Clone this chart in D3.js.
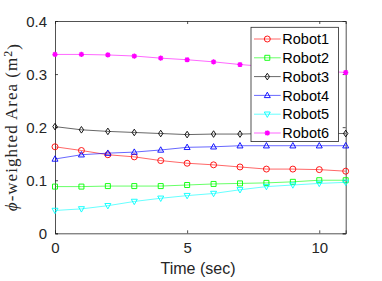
<!DOCTYPE html>
<html>
<head>
<meta charset="utf-8">
<script src="https://cdn.jsdelivr.net/npm/d3@7"></script>
<style>
  body { margin: 0; background: #fff; }
  svg { display: block; }
</style>
</head>
<body>
<div class="chart"></div>
<script>
const time = [0, 1, 2, 3, 4, 5, 6, 7, 8, 9, 10, 11]
const robot1 = [0.163, 0.156, 0.148, 0.144, 0.137, 0.132, 0.129, 0.125, 0.121, 0.121, 0.120, 0.117]
const robot2 = [0.088, 0.088, 0.089, 0.089, 0.089, 0.091, 0.093, 0.094, 0.095, 0.097, 0.100, 0.100]
const robot3 = [0.201, 0.195, 0.192, 0.190, 0.188, 0.186, 0.187, 0.187, 0.188, 0.188, 0.188, 0.188]
const robot4 = [0.140, 0.148, 0.151, 0.153, 0.157, 0.162, 0.163, 0.165, 0.165, 0.165, 0.165, 0.165]
const robot5 = [0.043, 0.046, 0.052, 0.060, 0.066, 0.071, 0.075, 0.082, 0.088, 0.091, 0.094, 0.096]
const robot6 = [0.337, 0.337, 0.336, 0.334, 0.330, 0.327, 0.323, 0.318, 0.314, 0.310, 0.306, 0.303]

const names = ['Robot1', 'Robot2', 'Robot3', 'Robot4', 'Robot5', 'Robot6']
const colors = ['#ff0000', '#00ff00', '#000000', '#0000ff', '#00ffff', '#ff00ff']
const markers = ['circle', 'square', 'diamond', 'triUp', 'triDown', 'star']
const xTicks = [0, 5, 10]
const yTicks = [0, 0.1, 0.2, 0.3, 0.4]

const series = [robot1, robot2, robot3, robot4, robot5, robot6].map((vals, i) => ({
  name: names[i], color: colors[i], marker: markers[i],
  points: vals.map((v, j) => ({ t: time[j], v: v }))
}))

const width = 382, height = 281
const margin = { top: 21, right: 36.3, bottom: 47.7, left: 55 }
const innerWidth = width - margin.left - margin.right
const innerHeight = height - margin.top - margin.bottom
const axisColor = '#262626'

const svg = d3.select('.chart').append('svg').attr('width', width).attr('height', height)
const g = svg.append('g').attr('transform', `translate(${margin.left}, ${margin.top})`)

const x = d3.scaleLinear().domain([0, 11]).range([0, innerWidth])
const y = d3.scaleLinear().domain([0, 0.4]).range([innerHeight, 0])

// axes with inward ticks, box on
const tick = 3
const font = 'Liberation Sans, Arial, sans-serif'
const bottomAxis = g.append('g').attr('transform', `translate(0, ${innerHeight})`)
  .call(d3.axisBottom(x).tickValues(xTicks).tickSize(-tick).tickPadding(9.5).tickFormat(d3.format('d')))
const leftAxis = g.append('g')
  .call(d3.axisLeft(y).tickValues(yTicks).tickSize(-tick).tickPadding(8).tickFormat(d => d === 0 ? '0' : d3.format('.1f')(d)))
const topAxis = g.append('g')
  .call(d3.axisTop(x).tickValues(xTicks).tickSize(-tick))
const rightAxis = g.append('g').attr('transform', `translate(${innerWidth}, 0)`)
  .call(d3.axisRight(y).tickValues(yTicks).tickSize(-tick))
// box sides carry ticks only
topAxis.selectAll('.tick text').remove()
rightAxis.selectAll('.tick text').remove()

;[bottomAxis, leftAxis, topAxis, rightAxis].forEach(a => {
  a.select('.domain').attr('stroke', axisColor).attr('stroke-width', 0.8)
  a.selectAll('.tick line').attr('stroke', axisColor).attr('stroke-width', 0.8)
  a.selectAll('.tick text').attr('fill', axisColor).style('font-family', font).style('font-size', '15px')
})
leftAxis.selectAll('.tick text').attr('dy', '0.36em')

// marker shapes
function markerPath(type) {
  switch (type) {
    case 'circle': return d3.symbol(d3.symbolCircle, 28)()
    case 'square': return 'M-2.5,-2.5H2.5V2.5H-2.5Z'
    case 'diamond': return 'M0,-3.3L2.2,0L0,3.3L-2.2,0Z'
    case 'triUp': return 'M0,-3.2L3,2.2H-3Z'
    case 'triDown': return 'M0,3.2L3,-2.2H-3Z'
    case 'star': return 'M-2.6,0H2.6M0,-2.6V2.6M-1.9,-1.9L1.9,1.9M-1.9,1.9L1.9,-1.9'
  }
}

const line = d3.line().x(d => x(d.t)).y(d => y(d.v))

const plot = g.append('g')
series.forEach(s => {
  const sg = plot.append('g')
  sg.append('path')
    .attr('d', line(s.points))
    .attr('fill', 'none')
    .attr('stroke', s.color)
    .attr('stroke-opacity', 0.75)
    .attr('stroke-width', 0.8)
  sg.selectAll('path.mk')
    .data(s.points)
    .join('path')
    .attr('class', 'mk')
    .attr('transform', d => `translate(${x(d.t)}, ${y(d.v)})`)
    .attr('d', markerPath(s.marker))
    .attr('fill', 'none')
    .attr('stroke', s.color)
    .attr('stroke-width', s.marker === 'star' ? 1.4 : 0.9)
})

// legend
const legend = g.append('g').attr('transform', `translate(${251 - margin.left}, ${27.3 - margin.top})`)
legend.append('rect')
  .attr('width', 87.5).attr('height', 114.3)
  .attr('fill', '#fff').attr('stroke', axisColor).attr('stroke-width', 0.8)
const rows = legend.selectAll('g.row').data(series).join('g')
  .attr('class', 'row')
  .attr('transform', (d, i) => `translate(0, ${11.7 + i * 18.8})`)
rows.append('line')
  .attr('x1', 3).attr('x2', 29.7)
  .attr('stroke', d => d.color).attr('stroke-opacity', 0.75).attr('stroke-width', 0.8)
rows.append('path')
  .attr('transform', 'translate(16.3, 0)')
  .attr('d', d => markerPath(d.marker))
  .attr('fill', 'none')
  .attr('stroke', d => d.color)
  .attr('stroke-width', d => d.marker === 'star' ? 1.4 : 0.9)
rows.append('text')
  .attr('x', 31.3).attr('dy', '0.36em')
  .attr('fill', '#000')
  .style('font-family', font).style('font-size', '14.5px')
  .text(d => d.name)

// axis labels
svg.append('text')
  .attr('x', 198).attr('y', 274)
  .attr('text-anchor', 'middle')
  .attr('fill', axisColor)
  .style('font-family', font).style('font-size', '16px')
  .text('Time (sec)')

const yLabel = svg.append('text')
  .attr('transform', `translate(17, ${margin.top + innerHeight / 2}) rotate(-90)`)
  .attr('text-anchor', 'middle')
  .attr('fill', axisColor)
  .style('font-family', 'Liberation Serif, Times New Roman, serif').style('font-size', '17px')
yLabel.append('tspan').style('font-style', 'italic').text('ϕ')
yLabel.append('tspan').text('-weighted Area (m')
yLabel.append('tspan').attr('dy', '-0.45em').style('font-size', '12px').text('2')
yLabel.append('tspan').attr('dy', '0.45em').text(')')
// stretch the serif label to the width the LaTeX text takes in the original
const labelLen = yLabel.node().getComputedTextLength()
yLabel.style('letter-spacing', `${Math.max(0, (168 - labelLen) / 20)}px`)
</script>
</body>
</html>
